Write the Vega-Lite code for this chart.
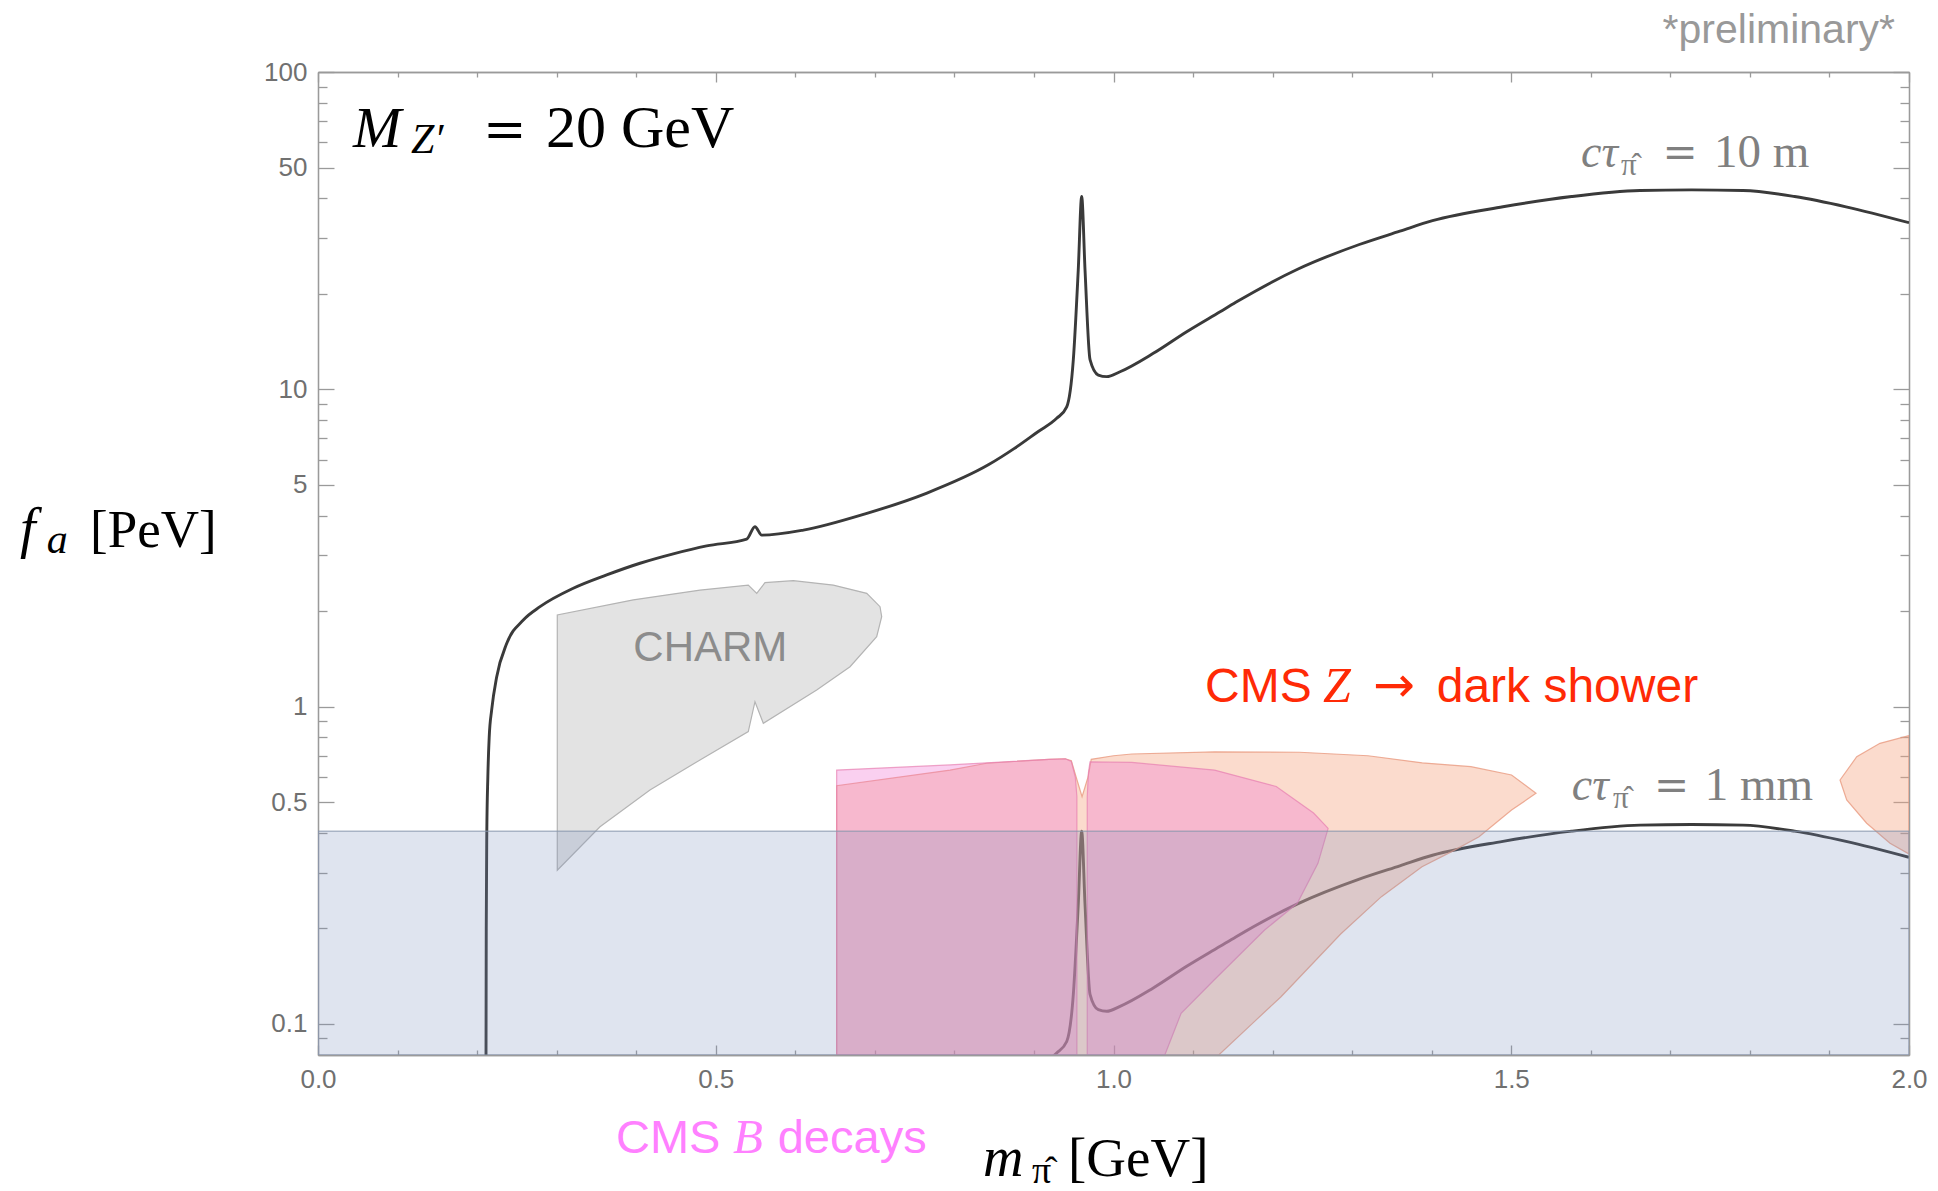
{
  "$schema": "https://vega.github.io/schema/vega-lite/v6.json",
  "width": 1591,
  "height": 983,
  "autosize": {"type": "none"},
  "padding": {"left": 318, "top": 72, "right": 29, "bottom": 136},
  "background": "white",
  "config": {
    "view": {"stroke": null},
    "axis": {
      "domainColor": "#9a9a9a",
      "domainWidth": 1.3,
      "tickColor": "#9a9a9a",
      "tickWidth": 1.3,
      "grid": false,
      "labelFont": "Liberation Sans",
      "labelFontSize": 26,
      "labelColor": "#707070",
      "labelFlush": false,
      "labelOverlap": false
    }
  },
  "resolve": {"axis": {"x": "independent", "y": "independent"}},
  "layer": [
    {
      "data": {"values": [
        {"c": "10m", "x": 0.2112, "y": 0.0795}, {"c": "10m", "x": 0.2115, "y": 0.2}, {"c": "10m", "x": 0.2122, "y": 0.4},
        {"c": "10m", "x": 0.2135, "y": 0.6}, {"c": "10m", "x": 0.2152, "y": 0.8}, {"c": "10m", "x": 0.2184, "y": 0.98},
        {"c": "10m", "x": 0.2246, "y": 1.24}, {"c": "10m", "x": 0.2372, "y": 1.58}, {"c": "10m", "x": 0.2581, "y": 1.875},
        {"c": "10m", "x": 0.2791, "y": 2.065}, {"c": "10m", "x": 0.3209, "y": 2.36}, {"c": "10m", "x": 0.3629, "y": 2.6},
        {"c": "10m", "x": 0.4048, "y": 2.83}, {"c": "10m", "x": 0.4466, "y": 3.03}, {"c": "10m", "x": 0.4886, "y": 3.21},
        {"c": "10m", "x": 0.5389, "y": 3.37}, {"c": "10m", "x": 0.5493, "y": 3.69}, {"c": "10m", "x": 0.5578, "y": 3.47},
        {"c": "10m", "x": 0.6102, "y": 3.6}, {"c": "10m", "x": 0.6879, "y": 4.05}, {"c": "10m", "x": 0.7655, "y": 4.71},
        {"c": "10m", "x": 0.8432, "y": 5.79}, {"c": "10m", "x": 0.875, "y": 6.5}, {"c": "10m", "x": 0.905, "y": 7.35},
        {"c": "10m", "x": 0.9286, "y": 8.1},
        {"c": "10m", "x": 0.9412, "y": 8.8}, {"c": "10m", "x": 0.9495, "y": 12.4}, {"c": "10m", "x": 0.9557, "y": 23.8},
        {"c": "10m", "x": 0.96, "y": 40.5}, {"c": "10m", "x": 0.9642, "y": 23.8}, {"c": "10m", "x": 0.9705, "y": 12.4},
        {"c": "10m", "x": 0.9809, "y": 11.09}, {"c": "10m", "x": 0.9914, "y": 10.96}, {"c": "10m", "x": 1.0082, "y": 11.36},
        {"c": "10m", "x": 1.05, "y": 12.98}, {"c": "10m", "x": 1.092, "y": 15.19}, {"c": "10m", "x": 1.134, "y": 17.56},
        {"c": "10m", "x": 1.1537, "y": 18.8}, {"c": "10m", "x": 1.2314, "y": 23.9}, {"c": "10m", "x": 1.309, "y": 28.6},
        {"c": "10m", "x": 1.36, "y": 31.5}, {"c": "10m", "x": 1.401, "y": 34.0}, {"c": "10m", "x": 1.4896, "y": 37.6},
        {"c": "10m", "x": 1.5759, "y": 40.5}, {"c": "10m", "x": 1.6619, "y": 42.3}, {"c": "10m", "x": 1.7268, "y": 42.5},
        {"c": "10m", "x": 1.7913, "y": 42.3}, {"c": "10m", "x": 1.8562, "y": 40.5}, {"c": "10m", "x": 1.9208, "y": 37.6},
        {"c": "10m", "x": 2.0, "y": 33.5},
        {"c": "1mm", "x": 0.875, "y": 0.065}, {"c": "1mm", "x": 0.905, "y": 0.0735}, {"c": "1mm", "x": 0.9286, "y": 0.081}, {"c": "1mm", "x": 0.9412, "y": 0.088},
        {"c": "1mm", "x": 0.9495, "y": 0.124}, {"c": "1mm", "x": 0.9557, "y": 0.238}, {"c": "1mm", "x": 0.96, "y": 0.405},
        {"c": "1mm", "x": 0.9642, "y": 0.238}, {"c": "1mm", "x": 0.9705, "y": 0.124}, {"c": "1mm", "x": 0.9809, "y": 0.1109},
        {"c": "1mm", "x": 0.9914, "y": 0.1096}, {"c": "1mm", "x": 1.0082, "y": 0.1136}, {"c": "1mm", "x": 1.05, "y": 0.1298},
        {"c": "1mm", "x": 1.092, "y": 0.1519}, {"c": "1mm", "x": 1.134, "y": 0.1756}, {"c": "1mm", "x": 1.1537, "y": 0.188},
        {"c": "1mm", "x": 1.2314, "y": 0.239}, {"c": "1mm", "x": 1.309, "y": 0.286}, {"c": "1mm", "x": 1.36, "y": 0.315},
        {"c": "1mm", "x": 1.401, "y": 0.34}, {"c": "1mm", "x": 1.4896, "y": 0.376}, {"c": "1mm", "x": 1.5759, "y": 0.405},
        {"c": "1mm", "x": 1.6619, "y": 0.423}, {"c": "1mm", "x": 1.7268, "y": 0.425}, {"c": "1mm", "x": 1.7913, "y": 0.423},
        {"c": "1mm", "x": 1.8562, "y": 0.405}, {"c": "1mm", "x": 1.9208, "y": 0.376}, {"c": "1mm", "x": 2.0, "y": 0.335}
      ]},
      "mark": {"type": "line", "color": "#3a3a3a", "strokeWidth": 2.9, "interpolate": "monotone", "clip": true},
      "encoding": {
        "x": {"field": "x", "type": "quantitative", "scale": {"domain": [0, 2], "nice": false, "zero": false},
          "axis": {"orient": "bottom", "values": [0, 0.5, 1, 1.5, 2], "format": ".1f", "tickSize": -10, "labelPadding": 21, "title": null}},
        "y": {"field": "y", "type": "quantitative", "scale": {"type": "log", "domain": [0.0798, 100], "nice": false},
          "axis": {"orient": "left", "values": [0.1, 0.5, 1, 5, 10, 50, 100], "format": "~g", "tickSize": -16, "labelPadding": 27, "title": null}},
        "detail": {"field": "c"}
      }
    },
    {
      "data": {"values": [
        {"g": "charm", "i": 0, "x": 0.3008, "y": 0.305}, {"g": "charm", "i": 1, "x": 0.3008, "y": 1.944},
        {"g": "charm", "i": 2, "x": 0.3964, "y": 2.17}, {"g": "charm", "i": 3, "x": 0.4802, "y": 2.33},
        {"g": "charm", "i": 4, "x": 0.5409, "y": 2.415}, {"g": "charm", "i": 5, "x": 0.5515, "y": 2.275},
        {"g": "charm", "i": 6, "x": 0.5619, "y": 2.458}, {"g": "charm", "i": 7, "x": 0.5975, "y": 2.494},
        {"g": "charm", "i": 8, "x": 0.6478, "y": 2.415}, {"g": "charm", "i": 9, "x": 0.6898, "y": 2.275},
        {"g": "charm", "i": 10, "x": 0.7065, "y": 2.065}, {"g": "charm", "i": 11, "x": 0.7086, "y": 1.92},
        {"g": "charm", "i": 12, "x": 0.7023, "y": 1.661}, {"g": "charm", "i": 13, "x": 0.6688, "y": 1.336},
        {"g": "charm", "i": 14, "x": 0.6269, "y": 1.128}, {"g": "charm", "i": 15, "x": 0.5598, "y": 0.886},
        {"g": "charm", "i": 16, "x": 0.5493, "y": 1.036}, {"g": "charm", "i": 17, "x": 0.5409, "y": 0.834},
        {"g": "charm", "i": 18, "x": 0.4802, "y": 0.679}, {"g": "charm", "i": 19, "x": 0.4173, "y": 0.546},
        {"g": "charm", "i": 20, "x": 0.3545, "y": 0.418}
      ]},
      "mark": {"type": "line", "interpolate": "linear-closed", "fill": "#e3e3e3", "stroke": "#b4b4b4", "strokeWidth": 1.2, "clip": true},
      "encoding": {
        "x": {"field": "x", "type": "quantitative", "scale": {"domain": [0, 2], "nice": false, "zero": false},
          "axis": {"orient": "bottom", "values": [0.1, 0.2, 0.3, 0.4, 0.6, 0.7, 0.8, 0.9, 1.1, 1.2, 1.3, 1.4, 1.6, 1.7, 1.8, 1.9], "tickSize": -5, "labels": false, "title": null}},
        "y": {"field": "y", "type": "quantitative", "scale": {"type": "log", "domain": [0.0798, 100], "nice": false},
          "axis": {"orient": "left", "values": [0.09, 0.2, 0.3, 0.4, 0.6, 0.7, 0.8, 0.9, 2, 3, 4, 6, 7, 8, 9, 20, 30, 40, 60, 70, 80, 90], "tickSize": -9, "labels": false, "title": null}},
        "detail": {"field": "g"},
        "order": {"field": "i"}
      }
    },
    {
      "data": {"values": [
        {"g": "z1", "i": 0, "x": 0.652, "y": 0.0798}, {"g": "z1", "i": 1, "x": 0.652, "y": 0.563},
        {"g": "z1", "i": 2, "x": 0.7945, "y": 0.631}, {"g": "z1", "i": 3, "x": 0.8405, "y": 0.663},
        {"g": "z1", "i": 4, "x": 0.9187, "y": 0.682}, {"g": "z1", "i": 5, "x": 0.9394, "y": 0.685},
        {"g": "z1", "i": 6, "x": 0.947, "y": 0.675}, {"g": "z1", "i": 7, "x": 0.953, "y": 0.6},
        {"g": "z1", "i": 8, "x": 0.9605, "y": 0.52}, {"g": "z1", "i": 9, "x": 0.968, "y": 0.6},
        {"g": "z1", "i": 10, "x": 0.972, "y": 0.682}, {"g": "z1", "i": 11, "x": 1.0, "y": 0.7},
        {"g": "z1", "i": 12, "x": 1.023, "y": 0.709}, {"g": "z1", "i": 13, "x": 1.127, "y": 0.72},
        {"g": "z1", "i": 14, "x": 1.234, "y": 0.718}, {"g": "z1", "i": 15, "x": 1.32, "y": 0.7},
        {"g": "z1", "i": 16, "x": 1.388, "y": 0.665}, {"g": "z1", "i": 17, "x": 1.4493, "y": 0.6465},
        {"g": "z1", "i": 18, "x": 1.5004, "y": 0.609}, {"g": "z1", "i": 19, "x": 1.5311, "y": 0.533},
        {"g": "z1", "i": 20, "x": 1.5004, "y": 0.472}, {"g": "z1", "i": 21, "x": 1.4595, "y": 0.389},
        {"g": "z1", "i": 22, "x": 1.4288, "y": 0.353}, {"g": "z1", "i": 23, "x": 1.3878, "y": 0.313},
        {"g": "z1", "i": 24, "x": 1.3368, "y": 0.2518}, {"g": "z1", "i": 25, "x": 1.2856, "y": 0.192},
        {"g": "z1", "i": 26, "x": 1.2106, "y": 0.1218}, {"g": "z1", "i": 27, "x": 1.1791, "y": 0.1028},
        {"g": "z1", "i": 28, "x": 1.1323, "y": 0.0798},
        {"g": "z2", "i": 0, "x": 2.0, "y": 0.81}, {"g": "z2", "i": 1, "x": 1.9635, "y": 0.766},
        {"g": "z2", "i": 2, "x": 1.9343, "y": 0.695}, {"g": "z2", "i": 3, "x": 1.9133, "y": 0.587},
        {"g": "z2", "i": 4, "x": 1.9217, "y": 0.508}, {"g": "z2", "i": 5, "x": 1.9468, "y": 0.429},
        {"g": "z2", "i": 6, "x": 1.9761, "y": 0.371}, {"g": "z2", "i": 7, "x": 2.0, "y": 0.343}
      ]},
      "mark": {"type": "line", "interpolate": "linear-closed", "fill": "#f4a582", "fillOpacity": 0.4, "stroke": "#e89a80", "strokeOpacity": 0.8, "strokeWidth": 1.2, "clip": true},
      "encoding": {
        "x": {"field": "x", "type": "quantitative", "scale": {"domain": [0, 2], "nice": false, "zero": false},
          "axis": {"orient": "top", "values": [0, 0.5, 1, 1.5, 2], "tickSize": -10, "labels": false, "title": null}},
        "y": {"field": "y", "type": "quantitative", "scale": {"type": "log", "domain": [0.0798, 100], "nice": false},
          "axis": {"orient": "right", "values": [0.1, 0.5, 1, 5, 10, 50, 100], "tickSize": -16, "labels": false, "title": null}},
        "detail": {"field": "g"},
        "order": {"field": "i"}
      }
    },
    {
      "data": {"values": [
        {"g": "b1", "i": 0, "x": 0.652, "y": 0.0798}, {"g": "b1", "i": 1, "x": 0.652, "y": 0.631},
        {"g": "b1", "i": 2, "x": 0.7945, "y": 0.655}, {"g": "b1", "i": 3, "x": 0.8405, "y": 0.665},
        {"g": "b1", "i": 4, "x": 0.9187, "y": 0.682}, {"g": "b1", "i": 5, "x": 0.9394, "y": 0.685},
        {"g": "b1", "i": 6, "x": 0.947, "y": 0.672}, {"g": "b1", "i": 7, "x": 0.952, "y": 0.6},
        {"g": "b1", "i": 8, "x": 0.954, "y": 0.52}, {"g": "b1", "i": 9, "x": 0.954, "y": 0.0798},
        {"g": "b2", "i": 0, "x": 0.967, "y": 0.0798}, {"g": "b2", "i": 1, "x": 0.967, "y": 0.52},
        {"g": "b2", "i": 2, "x": 0.9685, "y": 0.62}, {"g": "b2", "i": 3, "x": 0.9705, "y": 0.67},
        {"g": "b2", "i": 4, "x": 1.023, "y": 0.667}, {"g": "b2", "i": 5, "x": 1.1271, "y": 0.631},
        {"g": "b2", "i": 6, "x": 1.2046, "y": 0.56}, {"g": "b2", "i": 7, "x": 1.2515, "y": 0.462},
        {"g": "b2", "i": 8, "x": 1.2698, "y": 0.4135}, {"g": "b2", "i": 9, "x": 1.257, "y": 0.3206},
        {"g": "b2", "i": 10, "x": 1.2311, "y": 0.24}, {"g": "b2", "i": 11, "x": 1.19, "y": 0.1977},
        {"g": "b2", "i": 12, "x": 1.1265, "y": 0.1375}, {"g": "b2", "i": 13, "x": 1.085, "y": 0.108},
        {"g": "b2", "i": 14, "x": 1.0645, "y": 0.0798}
      ]},
      "mark": {"type": "line", "interpolate": "linear-closed", "fill": "#f070d0", "fillOpacity": 0.33, "stroke": "#e77fb0", "strokeOpacity": 0.7, "strokeWidth": 1.2, "clip": true},
      "encoding": {
        "x": {"field": "x", "type": "quantitative", "scale": {"domain": [0, 2], "nice": false, "zero": false},
          "axis": {"orient": "top", "values": [0.1, 0.2, 0.3, 0.4, 0.6, 0.7, 0.8, 0.9, 1.1, 1.2, 1.3, 1.4, 1.6, 1.7, 1.8, 1.9], "tickSize": -5, "labels": false, "title": null}},
        "y": {"field": "y", "type": "quantitative", "scale": {"type": "log", "domain": [0.0798, 100], "nice": false},
          "axis": {"orient": "right", "values": [0.09, 0.2, 0.3, 0.4, 0.6, 0.7, 0.8, 0.9, 2, 3, 4, 6, 7, 8, 9, 20, 30, 40, 60, 70, 80, 90], "tickSize": -9, "labels": false, "title": null}},
        "detail": {"field": "g"},
        "order": {"field": "i"}
      }
    },
    {
      "data": {"values": [{"x0": 0, "x1": 2, "y0": 0.0798, "y1": 0.405}]},
      "mark": {"type": "rect", "fill": "#7890bb", "fillOpacity": 0.24, "stroke": "#8896ae", "strokeWidth": 1, "clip": true},
      "encoding": {
        "x": {"field": "x0", "type": "quantitative", "scale": {"domain": [0, 2], "nice": false, "zero": false}, "axis": null},
        "x2": {"field": "x1"},
        "y": {"field": "y0", "type": "quantitative", "scale": {"type": "log", "domain": [0.0798, 100], "nice": false}, "axis": null},
        "y2": {"field": "y1"}
      }
    },
    {
      "data": {"values": [{"x": 1.9824, "y": 123.4, "t": "*preliminary*"}]},
      "mark": {"type": "text", "font": "Liberation Sans", "fontSize": 41, "color": "#999999", "align": "right", "baseline": "alphabetic"},
      "encoding": {
        "x": {"field": "x", "type": "quantitative", "scale": {"domain": [0, 2], "nice": false, "zero": false}, "axis": null},
        "y": {"field": "y", "type": "quantitative", "scale": {"type": "log", "domain": [0.0798, 100], "nice": false}, "axis": null},
        "text": {"field": "t"}
      }
    },
    {
      "data": {"values": [{"x": 0.044, "y": 58.0, "t": "M"}]},
      "mark": {"type": "text", "font": "Liberation Serif", "fontStyle": "italic", "fontSize": 58, "color": "#000000", "align": "left", "baseline": "alphabetic"},
      "encoding": {
        "x": {"field": "x", "type": "quantitative", "scale": {"domain": [0, 2], "nice": false, "zero": false}, "axis": null},
        "y": {"field": "y", "type": "quantitative", "scale": {"type": "log", "domain": [0.0798, 100], "nice": false}, "axis": null},
        "text": {"field": "t"}
      }
    },
    {
      "data": {"values": [{"x": 0.1169, "y": 55.6, "t": "Z′"}, {"x": -0.341, "y": 3.05, "t": "a"}]},
      "mark": {"type": "text", "font": "Liberation Serif", "fontStyle": "italic", "fontSize": 42, "color": "#000000", "align": "left", "baseline": "alphabetic"},
      "encoding": {
        "x": {"field": "x", "type": "quantitative", "scale": {"domain": [0, 2], "nice": false, "zero": false}, "axis": null},
        "y": {"field": "y", "type": "quantitative", "scale": {"type": "log", "domain": [0.0798, 100], "nice": false}, "axis": null},
        "text": {"field": "t"}
      }
    },
    {
      "data": {"values": [{"x": 0.2074, "y": 58.0, "t": "="}]},
      "mark": {"type": "text", "font": "DejaVu Serif", "fontSize": 52, "color": "#000000", "align": "left", "baseline": "alphabetic"},
      "encoding": {
        "x": {"field": "x", "type": "quantitative", "scale": {"domain": [0, 2], "nice": false, "zero": false}, "axis": null},
        "y": {"field": "y", "type": "quantitative", "scale": {"type": "log", "domain": [0.0798, 100], "nice": false}, "axis": null},
        "text": {"field": "t"}
      }
    },
    {
      "data": {"values": [{"x": 0.2866, "y": 58.0, "t": "20 GeV"}]},
      "mark": {"type": "text", "font": "Liberation Serif", "fontSize": 60, "color": "#000000", "align": "left", "baseline": "alphabetic"},
      "encoding": {
        "x": {"field": "x", "type": "quantitative", "scale": {"domain": [0, 2], "nice": false, "zero": false}, "axis": null},
        "y": {"field": "y", "type": "quantitative", "scale": {"type": "log", "domain": [0.0798, 100], "nice": false}, "axis": null},
        "text": {"field": "t"}
      }
    },
    {
      "data": {"values": [{"x": 0.8359, "y": 0.0332, "t": "m"}, {"x": -0.3746, "y": 3.19, "t": "f"}]},
      "mark": {"type": "text", "font": "Liberation Serif", "fontStyle": "italic", "fontSize": 56, "color": "#000000", "align": "left", "baseline": "alphabetic"},
      "encoding": {
        "x": {"field": "x", "type": "quantitative", "scale": {"domain": [0, 2], "nice": false, "zero": false}, "axis": null},
        "y": {"field": "y", "type": "quantitative", "scale": {"type": "log", "domain": [0.0798, 100], "nice": false}, "axis": null},
        "text": {"field": "t"}
      }
    },
    {
      "data": {"values": [{"x": 0.9428, "y": 0.0332, "t": "[GeV]"}]},
      "mark": {"type": "text", "font": "Liberation Serif", "fontSize": 55, "color": "#000000", "align": "left", "baseline": "alphabetic"},
      "encoding": {
        "x": {"field": "x", "type": "quantitative", "scale": {"domain": [0, 2], "nice": false, "zero": false}, "axis": null},
        "y": {"field": "y", "type": "quantitative", "scale": {"type": "log", "domain": [0.0798, 100], "nice": false}, "axis": null},
        "text": {"field": "t"}
      }
    },
    {
      "data": {"values": [{"x": -0.2866, "y": 3.19, "t": "[PeV]"}]},
      "mark": {"type": "text", "font": "Liberation Serif", "fontSize": 53, "color": "#000000", "align": "left", "baseline": "alphabetic"},
      "encoding": {
        "x": {"field": "x", "type": "quantitative", "scale": {"domain": [0, 2], "nice": false, "zero": false}, "axis": null},
        "y": {"field": "y", "type": "quantitative", "scale": {"type": "log", "domain": [0.0798, 100], "nice": false}, "axis": null},
        "text": {"field": "t"}
      }
    },
    {
      "data": {"values": [{"x": 0.8976, "y": 0.0315, "t": "π̂"}]},
      "mark": {"type": "text", "font": "Liberation Serif", "fontSize": 38, "color": "#000000", "align": "left", "baseline": "alphabetic"},
      "encoding": {
        "x": {"field": "x", "type": "quantitative", "scale": {"domain": [0, 2], "nice": false, "zero": false}, "axis": null},
        "y": {"field": "y", "type": "quantitative", "scale": {"type": "log", "domain": [0.0798, 100], "nice": false}, "axis": null},
        "text": {"field": "t"}
      }
    },
    {
      "data": {"values": [{"x": 1.5877, "y": 50.2, "t": "cτ"}, {"x": 1.5761, "y": 0.5077, "t": "cτ"}]},
      "mark": {"type": "text", "font": "Liberation Serif", "fontStyle": "italic", "fontSize": 46, "color": "#808080", "align": "left", "baseline": "alphabetic"},
      "encoding": {
        "x": {"field": "x", "type": "quantitative", "scale": {"domain": [0, 2], "nice": false, "zero": false}, "axis": null},
        "y": {"field": "y", "type": "quantitative", "scale": {"type": "log", "domain": [0.0798, 100], "nice": false}, "axis": null},
        "text": {"field": "t"}
      }
    },
    {
      "data": {"values": [{"x": 1.638, "y": 47.35, "t": "π̂"}, {"x": 1.6279, "y": 0.479, "t": "π̂"}]},
      "mark": {"type": "text", "font": "Liberation Serif", "fontSize": 31, "color": "#808080", "align": "left", "baseline": "alphabetic"},
      "encoding": {
        "x": {"field": "x", "type": "quantitative", "scale": {"domain": [0, 2], "nice": false, "zero": false}, "axis": null},
        "y": {"field": "y", "type": "quantitative", "scale": {"type": "log", "domain": [0.0798, 100], "nice": false}, "axis": null},
        "text": {"field": "t"}
      }
    },
    {
      "data": {"values": [{"x": 1.69, "y": 50.2, "t": "="}, {"x": 1.6795, "y": 0.5077, "t": "="}]},
      "mark": {"type": "text", "font": "DejaVu Serif", "fontSize": 42, "color": "#808080", "align": "left", "baseline": "alphabetic"},
      "encoding": {
        "x": {"field": "x", "type": "quantitative", "scale": {"domain": [0, 2], "nice": false, "zero": false}, "axis": null},
        "y": {"field": "y", "type": "quantitative", "scale": {"type": "log", "domain": [0.0798, 100], "nice": false}, "axis": null},
        "text": {"field": "t"}
      }
    },
    {
      "data": {"values": [{"x": 1.7549, "y": 50.2, "t": "10 m"}, {"x": 1.7433, "y": 0.5077, "t": "1 mm"}]},
      "mark": {"type": "text", "font": "Liberation Serif", "fontSize": 47, "color": "#808080", "align": "left", "baseline": "alphabetic"},
      "encoding": {
        "x": {"field": "x", "type": "quantitative", "scale": {"domain": [0, 2], "nice": false, "zero": false}, "axis": null},
        "y": {"field": "y", "type": "quantitative", "scale": {"type": "log", "domain": [0.0798, 100], "nice": false}, "axis": null},
        "text": {"field": "t"}
      }
    },
    {
      "data": {"values": [{"x": 0.3964, "y": 1.395, "t": "CHARM"}]},
      "mark": {"type": "text", "font": "Liberation Sans", "fontSize": 42, "color": "#8c8c8c", "align": "left", "baseline": "alphabetic"},
      "encoding": {
        "x": {"field": "x", "type": "quantitative", "scale": {"domain": [0, 2], "nice": false, "zero": false}, "axis": null},
        "y": {"field": "y", "type": "quantitative", "scale": {"type": "log", "domain": [0.0798, 100], "nice": false}, "axis": null},
        "text": {"field": "t"}
      }
    },
    {
      "data": {"values": [{"x": 1.115, "y": 1.036, "t": "CMS"}, {"x": 1.4063, "y": 1.036, "t": "dark shower"}]},
      "mark": {"type": "text", "font": "Liberation Sans", "fontSize": 48, "color": "#ff2a06", "align": "left", "baseline": "alphabetic"},
      "encoding": {
        "x": {"field": "x", "type": "quantitative", "scale": {"domain": [0, 2], "nice": false, "zero": false}, "axis": null},
        "y": {"field": "y", "type": "quantitative", "scale": {"type": "log", "domain": [0.0798, 100], "nice": false}, "axis": null},
        "text": {"field": "t"}
      }
    },
    {
      "data": {"values": [{"x": 1.3262, "y": 1.036, "t": "→"}]},
      "mark": {"type": "text", "font": "DejaVu Sans", "fontSize": 50, "color": "#ff2a06", "align": "left", "baseline": "alphabetic"},
      "encoding": {
        "x": {"field": "x", "type": "quantitative", "scale": {"domain": [0, 2], "nice": false, "zero": false}, "axis": null},
        "y": {"field": "y", "type": "quantitative", "scale": {"type": "log", "domain": [0.0798, 100], "nice": false}, "axis": null},
        "text": {"field": "t"}
      }
    },
    {
      "data": {"values": [{"x": 1.2634, "y": 1.036, "t": "Z"}]},
      "mark": {"type": "text", "font": "Liberation Serif", "fontStyle": "italic", "fontSize": 50, "color": "#ff2a06", "align": "left", "baseline": "alphabetic"},
      "encoding": {
        "x": {"field": "x", "type": "quantitative", "scale": {"domain": [0, 2], "nice": false, "zero": false}, "axis": null},
        "y": {"field": "y", "type": "quantitative", "scale": {"type": "log", "domain": [0.0798, 100], "nice": false}, "axis": null},
        "text": {"field": "t"}
      }
    },
    {
      "data": {"values": [{"x": 0.3746, "y": 0.03918, "t": "CMS"}, {"x": 0.5779, "y": 0.03918, "t": "decays"}]},
      "mark": {"type": "text", "font": "Liberation Sans", "fontSize": 47, "color": "#ff80ff", "align": "left", "baseline": "alphabetic"},
      "encoding": {
        "x": {"field": "x", "type": "quantitative", "scale": {"domain": [0, 2], "nice": false, "zero": false}, "axis": null},
        "y": {"field": "y", "type": "quantitative", "scale": {"type": "log", "domain": [0.0798, 100], "nice": false}, "axis": null},
        "text": {"field": "t"}
      }
    },
    {
      "data": {"values": [{"x": 0.5217, "y": 0.03918, "t": "B"}]},
      "mark": {"type": "text", "font": "Liberation Serif", "fontStyle": "italic", "fontSize": 49, "color": "#ff80ff", "align": "left", "baseline": "alphabetic"},
      "encoding": {
        "x": {"field": "x", "type": "quantitative", "scale": {"domain": [0, 2], "nice": false, "zero": false}, "axis": null},
        "y": {"field": "y", "type": "quantitative", "scale": {"type": "log", "domain": [0.0798, 100], "nice": false}, "axis": null},
        "text": {"field": "t"}
      }
    }
  ]
}
